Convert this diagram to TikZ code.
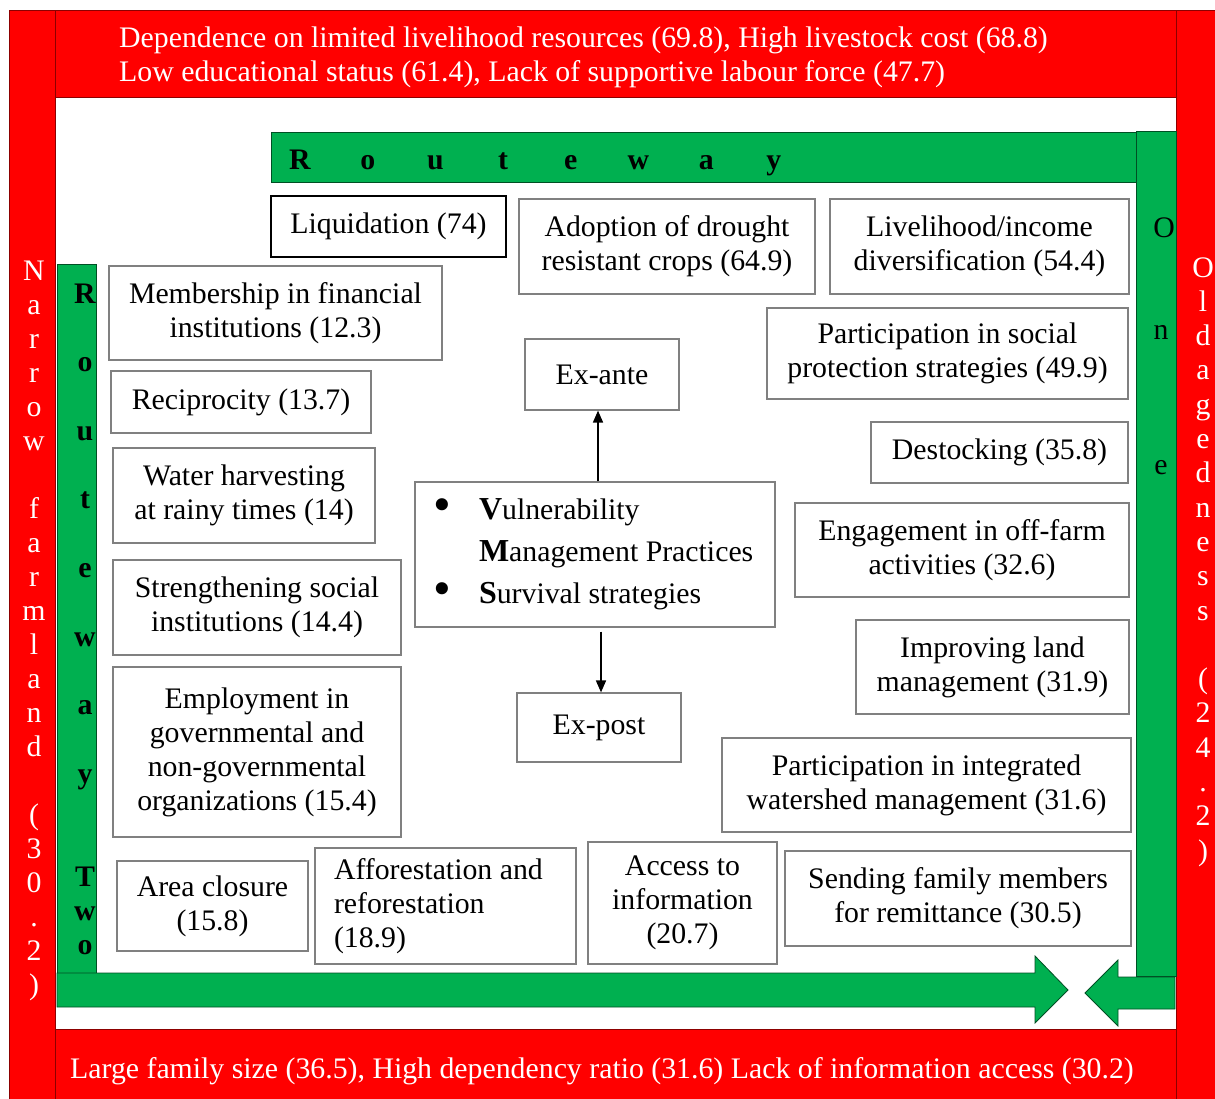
\documentclass[tikz,border=0pt]{standalone}
\usepackage{fontspec}
\usepackage{graphicx}
\setmainfont{Liberation Serif}
\usetikzlibrary{arrows.meta}
\definecolor{rd}{HTML}{FF0000}
\definecolor{gr}{HTML}{00B050}
\newcommand\mfs{\fontsize{29.8}{34}\selectfont}
\newcommand\bini[1]{{\fontsize{32}{34}\selectfont\bfseries #1}}
\newcommand\bigbul{\makebox[46pt][l]{\raisebox{-1.5pt}{\scalebox{1.7}{\textbullet}}}}
\tikzset{
 bx/.style={draw=black!50, line width=1.2pt, fill=white, align=center, inner sep=0pt, font=\mfs},
 redbar/.style={fill=rd, draw=black!45!rd, line width=0.8pt},
 grbar/.style={fill=gr, draw=black!55!gr, line width=0.8pt},
 wtxt/.style={text=white, font=\mfs, inner sep=0pt, anchor=base},
 ltr/.style={font=\mfs, inner sep=0pt, anchor=base},
 bltr/.style={font=\mfs\bfseries, inner sep=0pt, anchor=base},
 arr/.style={line width=1.6pt, -{Triangle[length=12pt,width=10pt]}}
}
\begin{document}
\begin{tikzpicture}[x=1pt,y=-1pt]
\useasboundingbox (0,0) rectangle (1215,1099);
\fill[white] (0,0) rectangle (1215,1099);
% red frame
\draw[redbar] (9,10) rectangle (55,1106);
\draw[redbar] (55,10) rectangle (1176,97);
\draw[redbar] (1176,10) rectangle (1224,1106);
\draw[redbar] (55,1029) rectangle (1176,1106);
\node[wtxt, anchor=base west] (top1) at (119,48) {Dependence on limited livelihood resources (69.8), High livestock cost (68.8)};
\node[wtxt, anchor=base west] (top2) at (119,82) {Low educational status (61.4), Lack of supportive labour force (47.7)};
\node[wtxt, anchor=base west] (bot1) at (70,1078) {Large family size (36.5), High dependency ratio (31.6) Lack of information access (30.2)};
\foreach \c [count=\i from 0] in {N,a,r,r,o,w,{},f,a,r,m,l,a,n,d,{},{(},3,0,.,2,{)}}
  \node[wtxt] (nl\i) at (34,280+34*\i) {\c};
\foreach \c [count=\i from 0] in {O,l,d,a,g,e,d,n,e,s,s,{},{(},2,4,.,2,{)}}
  \node[wtxt] (nr\i) at (1203,277+34.3*\i) {\c};
% green routes
\draw[grbar] (271,132) rectangle (1136,182);
\draw[grbar] (1136,131) rectangle (1176,976);
\draw[grbar] (1175,977) -- (1118,977) -- (1118,960) -- (1085,993) -- (1118,1026) -- (1118,1009) -- (1175,1009) -- cycle;
\draw[grbar] (57,264) rectangle (96,973);
\draw[grbar] (57,973) -- (1035,973) -- (1035,956) -- (1068,990) -- (1035,1023) -- (1035,1007) -- (57,1007) -- cycle;
\foreach \c [count=\i from 0] in {R,o,u,t,e,w,a,y}
  \node[bltr] (gt\i) at (300+67.7*\i,170) {\c};
\begin{scope}
\clip (57,264) rectangle (96,973);
\foreach \c [count=\i from 0] in {R,o,u,t,e,w,a,y}
  \node[bltr] (gl\i) at (85,303+68.6*\i) {\c};
\foreach \c [count=\i from 0] in {T,w,o}
  \node[bltr] (gw\i) at (85,886+34*\i) {\c};
\end{scope}
\node[ltr] (go1) at (1164,238) {O};
\node[ltr] (go2) at (1161,339) {n};
\node[ltr] (go3) at (1161,474) {e};
% boxes
\node[bx, draw=black, line width=2pt, minimum width=235, minimum height=61] (liq) at (388.5,226.5) {Liquidation (74)};
\node[bx, minimum width=296, minimum height=95] (adopt) at (667,246.5) {Adoption of drought\\resistant crops (64.9)};
\node[bx, minimum width=299, minimum height=95] (livel) at (979.5,246.5) {Livelihood/income\\diversification (54.4)};
\node[bx, minimum width=333, minimum height=94] (member) at (275.5,313) {Membership in financial\\institutions (12.3)};
\node[bx, minimum width=361, minimum height=91] (socprot) at (947.5,353.5) {Participation in social\\protection strategies (49.9)};
\node[bx, minimum width=154, minimum height=71] (exante) at (602,374.5) {Ex-ante};
\node[bx, minimum width=260, minimum height=62] (recip) at (241,402) {Reciprocity (13.7)};
\node[bx, minimum width=257, minimum height=61] (destock) at (999.5,452.5) {Destocking (35.8)};
\node[bx, minimum width=262, minimum height=95] (water) at (244,495.5) {Water harvesting\\at rainy times (14)};
\node[bx, minimum width=360, minimum height=145, align=flush left, text width=324, inner xsep=18pt, font=\fontsize{29.8}{42}\selectfont] (center) at (595,554.5)
  {\bigbul\bini{V}ulnerability\\\hspace*{46pt}\bini{M}anagement Practices\\\bigbul\bini{S}urvival strategies};
\node[bx, minimum width=334, minimum height=94] (offfarm) at (962,550) {Engagement in off-farm\\activities (32.6)};
\node[bx, minimum width=288, minimum height=95] (strength) at (257,607.5) {Strengthening social\\institutions (14.4)};
\node[bx, minimum width=273, minimum height=94] (land) at (992.5,667) {Improving land\\management (31.9)};
\node[bx, minimum width=164, minimum height=69] (expost) at (599,727.5) {Ex-post};
\node[bx, minimum width=288, minimum height=170] (employ) at (257,752) {Employment in\\governmental and\\non-governmental\\organizations (15.4)};
\node[bx, minimum width=409, minimum height=94] (watershed) at (926.5,785) {Participation in integrated\\watershed management (31.6)};
\node[bx, minimum width=191, minimum height=90] (area) at (212.5,906) {Area closure\\(15.8)};
\node[bx, minimum width=261, minimum height=116, align=flush left, text width=223, inner xsep=19pt] (affor) at (445.5,906) {Afforestation and\\reforestation\\(18.9)};
\node[bx, minimum width=189, minimum height=122] (access) at (682.5,903) {Access to\\information\\(20.7)};
\node[bx, minimum width=346, minimum height=95] (sending) at (958,898.5) {Sending family members\\for remittance (30.5)};
% arrows
\draw[arr] ([xshift=-4pt]exante.south |- center.north) -- ([xshift=-4pt]exante.south);
\draw[arr] ([xshift=2pt,yshift=-4pt]expost.north |- center.south) -- ([xshift=2pt]expost.north);
\end{tikzpicture}
\end{document}
